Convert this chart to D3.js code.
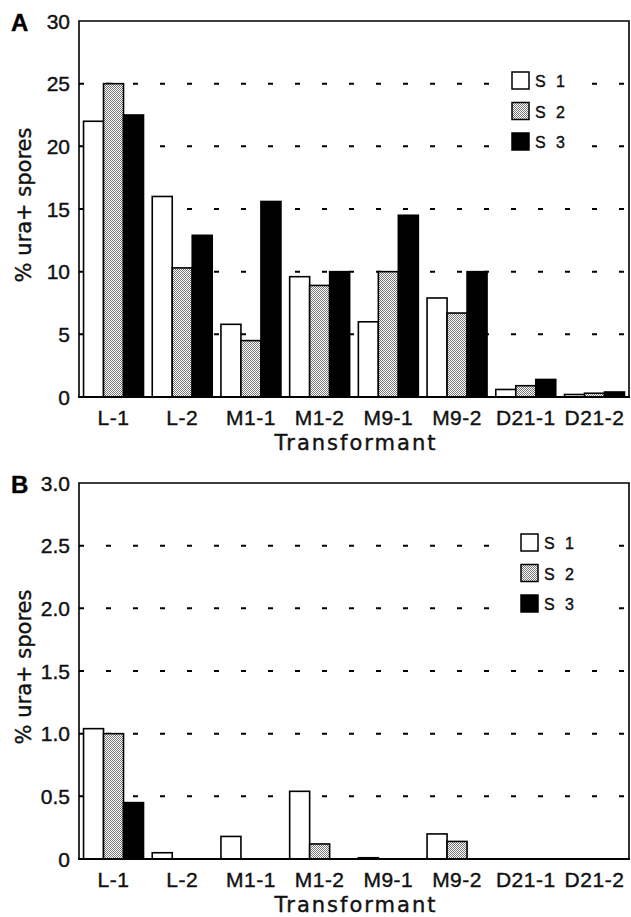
<!DOCTYPE html>
<html lang="en">
<head>
<meta charset="UTF-8">
<title>% ura+ spores by transformant</title>
<script src="https://d3js.org/d3.v7.min.js"></script>
<style>
    body { margin: 0; background: #fff; }
    svg { display: block; }
    text { stroke: #111; stroke-width: 0.4px; paint-order: stroke; }
    .tick-label { font-family: 'Liberation Sans', Arial, sans-serif; font-size: 21px; fill: #111; }
    .axis-title { font-family: 'DejaVu Sans', sans-serif; font-size: 21px; fill: #111; }
    .panel-letter { font-family: 'Liberation Sans', Arial, sans-serif; font-size: 24px; font-weight: bold; fill: #000; }
    .legend-label { font-family: 'Liberation Sans', Arial, sans-serif; font-size: 16px; fill: #111; letter-spacing: 3px; }
</style>
</head>
<body>
<svg id="chart" width="631" height="917"></svg>
<script>
    // --- data ---
    const categories = ["L-1", "L-2", "M1-1", "M1-2", "M9-1", "M9-2", "D21-1", "D21-2"];
    const seriesNames = ["S 1", "S 2", "S 3"];

    const panelA_S1 = [22, 16, 5.8, 9.6, 6, 7.9, 0.6, 0.2];
    const panelA_S2 = [25, 10.3, 4.5, 8.9, 10, 6.7, 0.9, 0.3];
    const panelA_S3 = [22.5, 12.9, 15.6, 10, 14.5, 10, 1.4, 0.4];
    const panelA_ticks = [0, 5, 10, 15, 20, 25, 30];
    const panelA_tickLabels = ["0", "5", "10", "15", "20", "25", "30"];

    const panelB_S1 = [1.04, 0.05, 0.18, 0.54, 0.01, 0.2, 0, 0];
    const panelB_S2 = [1.0, 0, 0, 0.12, 0, 0.14, 0, 0];
    const panelB_S3 = [0.45, 0, 0, 0, 0, 0, 0, 0];
    const panelB_ticks = [0, 0.5, 1.0, 1.5, 2.0, 2.5, 3.0];
    const panelB_tickLabels = ["0", "0.5", "1.0", "1.5", "2.0", "2.5", "3.0"];

    const svg = d3.select("#chart");

    // stipple pattern for S 2
    const defs = svg.append("defs");
    const pat = defs.append("pattern")
        .attr("id", "stipple")
        .attr("patternUnits", "userSpaceOnUse")
        .attr("width", 2).attr("height", 2);
    pat.append("rect").attr("width", 2).attr("height", 2).attr("fill", "#fff");
    pat.append("rect").attr("x", 0).attr("y", 0).attr("width", 1).attr("height", 1).attr("fill", "#777");
    pat.append("rect").attr("x", 1).attr("y", 1).attr("width", 1).attr("height", 1).attr("fill", "#777");

    const fills = ["#fff", "url(#stipple)", "#000"];

    const left = 79, right = 629;

    function drawPanel(p) {
        const g = svg.append("g");
        const x = d3.scaleBand().domain(categories).range([left, right])
            .paddingInner(0.127).paddingOuter(0.066);
        const xs = d3.scaleBand().domain(seriesNames).range([0, x.bandwidth()]);
        const y = d3.scaleLinear().domain([0, p.max]).range([p.bottom, p.top]);

        // dashed grid lines (not at 0 and top)
        g.append("g").selectAll("line")
            .data(p.ticks.filter(t => t > 0 && t < p.max))
            .join("line")
            .attr("x1", left).attr("x2", right)
            .attr("y1", d => y(d)).attr("y2", d => y(d))
            .attr("stroke", "#000").attr("stroke-width", 2)
            .attr("stroke-dasharray", "5,22");

        // bars
        const series = [p.s1, p.s2, p.s3];
        series.forEach((vals, si) => {
            g.append("g").selectAll("rect")
                .data(vals.map((v, i) => ({ cat: categories[i], v })).filter(d => d.v > 0))
                .join("rect")
                .attr("x", d => x(d.cat) + xs(seriesNames[si]))
                .attr("y", d => y(d.v))
                .attr("width", xs.bandwidth())
                .attr("height", d => p.bottom - y(d.v))
                .attr("fill", fills[si])
                .attr("stroke", "#000").attr("stroke-width", 1.6);
        });

        // frame
        g.append("path")
            .attr("d", `M${left},${p.bottom}V${p.top}H${right}V${p.bottom}`)
            .attr("fill", "none").attr("stroke", "#000").attr("stroke-width", 1.6);
        g.append("line")
            .attr("x1", left - 1).attr("x2", right + 1)
            .attr("y1", p.bottom).attr("y2", p.bottom)
            .attr("stroke", "#000").attr("stroke-width", 2.2);

        // y tick labels
        g.append("g").selectAll("text")
            .data(p.ticks)
            .join("text")
            .attr("class", "tick-label")
            .attr("x", 70)
            .attr("y", d => y(d))
            .attr("dy", "0.36em")
            .attr("text-anchor", "end")
            .text((d, i) => p.tickLabels[i]);

        // x tick labels
        g.append("g").selectAll("text")
            .data(categories)
            .join("text")
            .attr("class", "tick-label")
            .attr("x", d => x(d) + x.bandwidth() / 2)
            .attr("y", p.bottom + 28)
            .attr("text-anchor", "middle")
            .attr("letter-spacing", "0.5px")
            .text(d => d);

        // axis titles
        g.append("text")
            .attr("class", "axis-title")
            .attr("x", 356)
            .attr("y", p.bottom + 53)
            .attr("text-anchor", "middle")
            .attr("letter-spacing", "2px")
            .text("Transformant");
        g.append("text")
            .attr("class", "axis-title")
            .attr("transform", `translate(31,${(p.top + p.bottom) / 2 - 4}) rotate(-90)`)
            .attr("text-anchor", "middle")
            .attr("font-size", "22px")
            .text("% ura+ spores");

        // panel letter
        g.append("text")
            .attr("class", "panel-letter")
            .attr("x", 11).attr("y", p.top + 10)
            .text(p.letter);

        // legend
        const lg = g.append("g");
        lg.append("rect")
            .attr("x", p.legendX - 15).attr("y", p.legendY - 10)
            .attr("width", 92).attr("height", 96)
            .attr("fill", "#fff");
        seriesNames.forEach((name, i) => {
            lg.append("rect")
                .attr("x", p.legendX).attr("y", p.legendY + i * 30.5)
                .attr("width", 17).attr("height", 17)
                .attr("fill", fills[i])
                .attr("stroke", "#000").attr("stroke-width", 1.5);
            lg.append("text")
                .attr("class", "legend-label")
                .attr("x", p.legendX + 23).attr("y", p.legendY + i * 30.5 + 15)
                .text(name);
        });
    }

    drawPanel({
        letter: "A", top: 21, bottom: 397, max: 30,
        ticks: panelA_ticks, tickLabels: panelA_tickLabels,
        s1: panelA_S1, s2: panelA_S2, s3: panelA_S3,
        legendX: 512, legendY: 72
    });
    drawPanel({
        letter: "B", top: 483, bottom: 859, max: 3,
        ticks: panelB_ticks, tickLabels: panelB_tickLabels,
        s1: panelB_S1, s2: panelB_S2, s3: panelB_S3,
        legendX: 521, legendY: 534
    });
</script>
</body>
</html>
